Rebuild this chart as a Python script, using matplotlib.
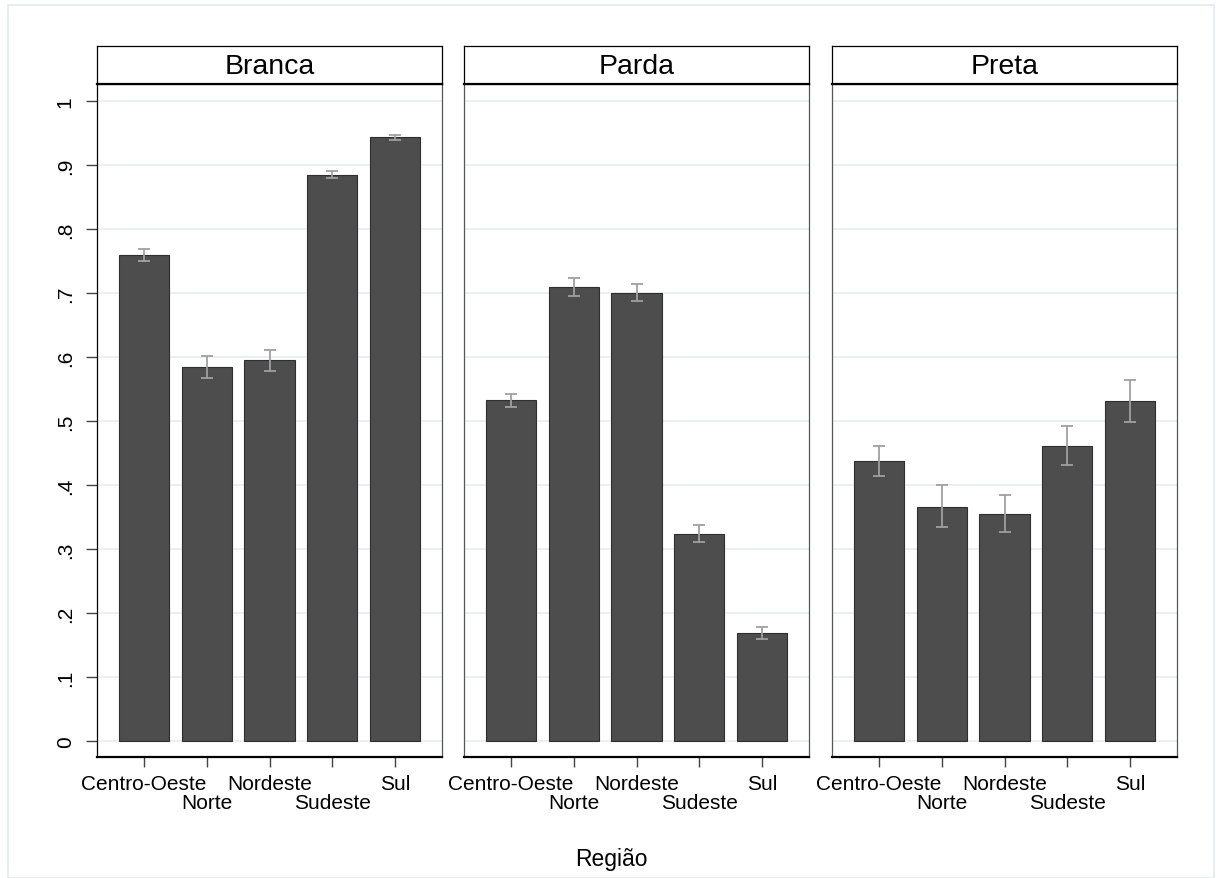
import matplotlib.pyplot as plt
from matplotlib.patches import Rectangle

plt.rcParams['font.family'] = ['Liberation Sans', 'DejaVu Sans']

regioes = ['Centro-Oeste', 'Norte', 'Nordeste', 'Sudeste', 'Sul']
grupos = ['Branca', 'Parda', 'Preta']

# proporção média por região e os limites do intervalo de confiança
media = {
    'Branca': [0.760, 0.585, 0.595, 0.885, 0.944],
    'Parda': [0.533, 0.710, 0.700, 0.323, 0.169],
    'Preta': [0.437, 0.366, 0.355, 0.461, 0.531],
}
ic_inf = {
    'Branca': [0.751, 0.568, 0.578, 0.880, 0.940],
    'Parda': [0.522, 0.696, 0.688, 0.311, 0.160],
    'Preta': [0.414, 0.335, 0.327, 0.432, 0.498],
}
ic_sup = {
    'Branca': [0.769, 0.602, 0.611, 0.891, 0.947],
    'Parda': [0.543, 0.724, 0.714, 0.337, 0.178],
    'Preta': [0.461, 0.400, 0.385, 0.493, 0.565],
}
yticks = [0, 0.1, 0.2, 0.3, 0.4, 0.5, 0.6, 0.7, 0.8, 0.9, 1.0]
ytick_labels = ['0', '.1', '.2', '.3', '.4', '.5', '.6', '.7', '.8', '.9', '1']

W, H = 1216, 879
fig = plt.figure(figsize=(W / 100, H / 100), dpi=100)
fig.patches.append(Rectangle((8 / W, 0), 1206 / W, (H - 6) / H, transform=fig.transFigure,
                             fill=False, edgecolor='#e4eaed', linewidth=1.2))

paineis = [(97, 442), (464, 809), (832, 1177)]
topo, base, cab = 85, 758, 47

for g, (x0, x1) in zip(grupos, paineis):
    ax = fig.add_axes([x0 / W, (H - base) / H, (x1 - x0) / W, (base - topo) / H])
    pos = list(range(len(regioes)))
    ax.bar(pos, media[g], width=0.8, color='#4d4d4d', edgecolor='#2e2e2e', linewidth=0.8, zorder=2)
    erro = [[m - lo for m, lo in zip(media[g], ic_inf[g])],
            [hi - m for m, hi in zip(media[g], ic_sup[g])]]
    ax.errorbar(pos, media[g], yerr=erro, fmt='none', ecolor='#a0a0a0',
                elinewidth=1.3, capsize=4.5, capthick=1.3, zorder=3)
    ax.set_xlim(-0.75, 4.75)
    ax.set_ylim(-0.025, 1.027)
    ax.set_yticks(yticks)
    ax.grid(axis='y', color='#e6eff1', linewidth=1.3, zorder=0)
    ax.set_axisbelow(True)
    ax.set_xticks(pos)
    ax.set_xticklabels(regioes, fontsize=15)
    ax.tick_params(axis='x', length=7, width=1, color='#444444', pad=5)
    # rótulos alternados em duas linhas
    for i, t in enumerate(ax.xaxis.get_major_ticks()):
        if i % 2 == 1:
            t.set_pad(19)
    for s in ['top', 'right', 'left']:
        ax.spines[s].set_linewidth(0.9)
        ax.spines[s].set_color('#555555')
    ax.spines['bottom'].set_linewidth(1.6)
    ax.spines['bottom'].set_color('black')
    if g == 'Branca':
        ax.set_yticklabels(ytick_labels, rotation=90, va='center', fontsize=15)
        ax.tick_params(axis='y', length=8, width=1, color='#444444', pad=8)
        ax.spines['left'].set_color('black')
    else:
        ax.tick_params(axis='y', length=0, labelleft=False)

    # faixa do título de cada painel
    hx = fig.add_axes([x0 / W, (H - topo) / H, (x1 - x0) / W, (topo - cab) / H])
    hx.set_xticks([])
    hx.set_yticks([])
    for s in hx.spines.values():
        s.set_color('black')
        s.set_linewidth(0.9)
    hx.spines['bottom'].set_linewidth(1.6)
    hx.text(0.5, 0.48, g, ha='center', va='center', fontsize=20.5, transform=hx.transAxes)

fig.text(611 / W, (H - 860) / H, 'Região', ha='center', va='center', fontsize=16.5)

fig.savefig('out.png', dpi=100)
